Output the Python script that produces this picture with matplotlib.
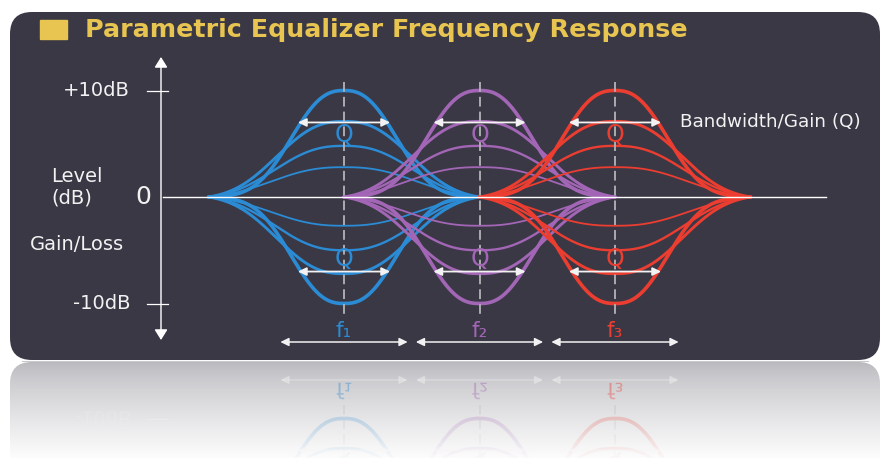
import numpy as np
import matplotlib
matplotlib.use("Agg")
import matplotlib.pyplot as plt
from matplotlib.patches import FancyBboxPatch, Rectangle, PathPatch
from matplotlib.textpath import TextPath
from matplotlib.font_manager import FontProperties
from matplotlib.transforms import Affine2D, ScaledTranslation

# --- chart data -------------------------------------------------------------
bands = ["f\u2081", "f\u2082", "f\u2083"]
band_centers = [1.0, 2.0, 3.0]              # band centre, in band units
band_colors = ["#2b8bd4", "#a366b6", "#ec3d31"]
boost_gains = [10.0, 7.1, 4.8, 2.8]         # dB, outer -> inner
cut_gains = [-10.0, -7.2, -5.0, -2.7]
curve_widths = [0.48, 0.61, 0.63, 0.66]     # bell width per curve
level_ticks = [10, -10]
level_labels = ["+10dB", "-10dB"]
q_level = 7.0                               # dB where the Q arrows sit

title = "Parametric Equalizer Frequency Response"

# --- layout (pixel anchors of the picture) ---------------------------------
W, H = 882, 458
PX_F1, PX_PER_BAND = 344, 135.5
PY_ZERO, PX_PER_DB = 197, 10.65
MIRROR_PY = 361
REFL_TOP = 362
curve_lw = [2.6, 2.1, 1.7, 1.3]
TEXT = "#f2f2f2"
LABEL_FS = 14


def px_x(px):
    return band_centers[0] + (px - PX_F1) / PX_PER_BAND


def py_db(py):
    return (PY_ZERO - py) / PX_PER_DB


def bell(t, gain, w):
    edge = np.exp(-(1 / w) ** 2.5)
    return gain * (np.exp(-(np.abs(t) / w) ** 2.5) - edge) / (1 - edge)


fig = plt.figure(figsize=(W / 100, H / 100), dpi=100, facecolor="white")

# background: panel + reflection floor
bg = fig.add_axes([0, 0, 1, 1])
bg.set_xlim(0, W)
bg.set_ylim(H, 0)
bg.set_axis_off()
bg.add_patch(FancyBboxPatch((10, 12), 870, 348, boxstyle="round,pad=0,rounding_size=22",
                            fc="#3a3845", ec="none"))
refl_clip = FancyBboxPatch((10, REFL_TOP), 870, 140, boxstyle="round,pad=0,rounding_size=22",
                           fc="none", ec="none", transform=bg.transData)
bg.add_patch(refl_clip)
g = np.linspace(0, 1, 120)[:, None]
top_c = np.array([0.73, 0.725, 0.745])
bot_c = np.array([0.99, 0.99, 0.99])
rows = top_c + (bot_c - top_c) * g ** 0.8
im = bg.imshow(rows[:, None, :], extent=(10, 880, H, REFL_TOP), aspect="auto", zorder=1)
im.set_clip_path(refl_clip)
bg.plot([22, 868], [MIRROR_PY, MIRROR_PY], color="#c9c9cd", lw=0.8, zorder=2)
bg.set_xlim(0, W)
bg.set_ylim(H, 0)

bg.add_patch(Rectangle((40, 20), 27, 19, color="#e8c450"))
bg.text(85, 30, title, color="#e8c450", fontsize=18.3, fontweight="bold", va="center", ha="left")

# main chart axes and mirrored reflection axes
ax = fig.add_axes([0, 0, 1, 1])
ax.set_xlim(px_x(0), px_x(W))
ax.set_ylim(py_db(H), py_db(0))
ax.set_axis_off()
ax.patch.set_alpha(0)

m = py_db(MIRROR_PY)
rax = fig.add_axes([0, 0, 1, (H - REFL_TOP) / H])
rax.set_axis_off()
rax.patch.set_alpha(0)


def put_text(a, x, y, s, faded, size, color, ha="center"):
    if not faded:
        a.text(x, y, s, fontsize=size, color=color, ha=ha, va="center")
        return
    # reflection: upside-down copy of the label
    tp = TextPath((0, 0), s, size=size, prop=FontProperties(family="DejaVu Sans"))
    bb = tp.get_extents()
    dx = {"center": -(bb.x0 + bb.x1) / 2, "left": -bb.x0, "right": -bb.x1}[ha]
    dy = -(bb.y0 + bb.y1) / 2
    k = fig.dpi / 72
    tr = Affine2D().translate(dx, dy).scale(k, -k) + ScaledTranslation(x, y, a.transData)
    a.add_patch(PathPatch(tp, transform=tr, fc=color, ec="none", alpha=0.55))


def arrow(a, x0, x1, y, lw, ms, alpha):
    a.annotate("", xy=(x1, y), xytext=(x0, y),
               arrowprops=dict(arrowstyle="<|-|>,head_length=0.45,head_width=0.22",
                               color=TEXT, lw=lw, shrinkA=0, shrinkB=0,
                               mutation_scale=ms, alpha=alpha))


def draw_scene(a, faded):
    al = 0.5 if faded else 1.0
    t = np.linspace(-1, 1, 500)
    for c, col in zip(band_centers, band_colors):
        for gains in (boost_gains, cut_gains):
            for gain, w, lw in zip(gains, curve_widths, curve_lw):
                a.plot(c + t, bell(t, gain, w), color=col, lw=lw, alpha=al,
                       solid_capstyle="round")
    for c in band_centers:
        a.plot([c, c], [py_db(82), py_db(317)], color="#b4b4b8", lw=1.3,
               dashes=(5.4, 2.8), alpha=al)
    a.plot([px_x(163), px_x(826)], [0, 0], color="white", lw=1.0, alpha=al)

    axis_x = px_x(161)
    a.annotate("", xy=(axis_x, py_db(57)), xytext=(axis_x, py_db(340)),
               arrowprops=dict(arrowstyle="<|-|>,head_length=0.45,head_width=0.28",
                               color="white", lw=1.0, shrinkA=0, shrinkB=0,
                               mutation_scale=14, alpha=al))
    for lv, lab in zip(level_ticks, level_labels):
        a.plot([px_x(147), px_x(168)], [lv, lv], color="white", lw=0.9, alpha=al)
        put_text(a, px_x(130), lv, lab, faded, LABEL_FS, TEXT, ha="right")
    put_text(a, px_x(151), 0, "0", faded, 18, TEXT, ha="right")
    put_text(a, px_x(51), py_db(177), "Level", faded, LABEL_FS, TEXT, ha="left")
    put_text(a, px_x(51), py_db(198), "(dB)", faded, LABEL_FS, TEXT, ha="left")
    put_text(a, px_x(30), py_db(244), "Gain/Loss", faded, LABEL_FS, TEXT, ha="left")

    for c, col, name in zip(band_centers, band_colors, bands):
        for s in (1, -1):
            arrow(a, c - 0.34, c + 0.34, s * q_level, 1.3, 11, al)
            put_text(a, c, s * 5.8, "Q", faded, 17, col)
        put_text(a, c, py_db(331), name, faded, 15.5, col)
        arrow(a, c - 0.47, c + 0.47, py_db(342), 1.1, 11, al)

    put_text(a, px_x(680), q_level, "Bandwidth/Gain (Q)", faded, 13.2, TEXT, ha="left")


draw_scene(ax, False)
draw_scene(rax, True)
rax.set_xlim(px_x(0), px_x(W))
rax.set_ylim(2 * m - py_db(H), 2 * m - py_db(REFL_TOP))

# fade the reflection towards the bottom
fade = np.zeros((120, 1, 4))
fade[..., :3] = rows[:, None, :]
fade[..., 3] = (0.08 + 0.88 * np.linspace(0, 1, 120) ** 1.1)[:, None]
yl = rax.get_ylim()
ov = rax.imshow(fade, extent=(px_x(0), px_x(W), yl[0], yl[1]), aspect="auto", zorder=20)
ov.set_clip_path(refl_clip)
rax.set_xlim(px_x(0), px_x(W))
rax.set_ylim(*yl)

fig.savefig("out.png", dpi=100, facecolor="white")
